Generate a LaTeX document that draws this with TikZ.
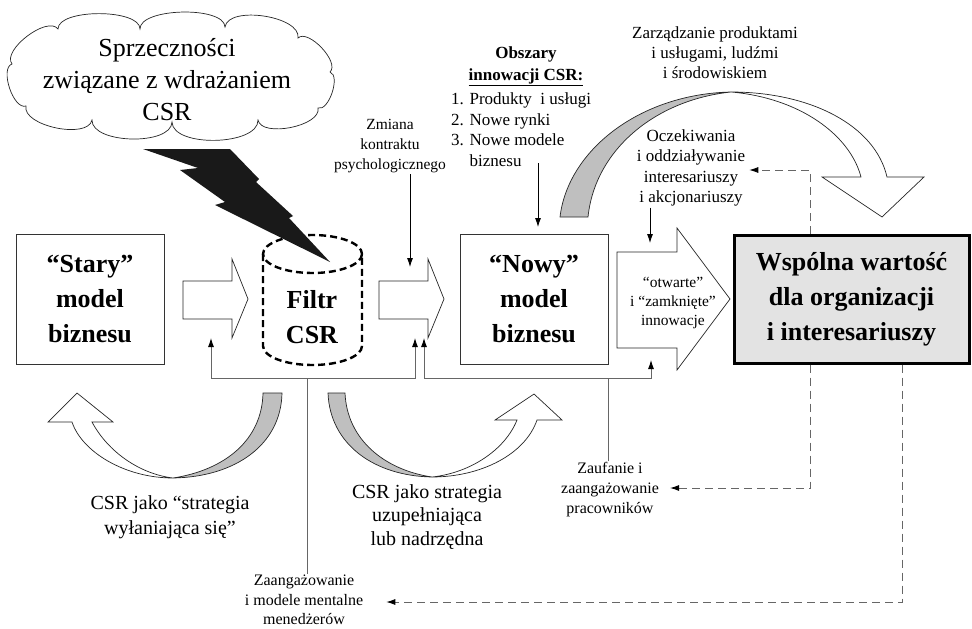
\documentclass[tikz,border=0pt]{standalone}
\usepackage{fontspec}
\setmainfont{Liberation Serif}
\usepackage{tikz}
\usetikzlibrary{arrows.meta}
\usetikzlibrary{calc}

\tikzset{
  lbl/.style={align=center, inner sep=1pt},
  smalltxt/.style={lbl, font=\fontsize{15.5}{20}\selectfont},
  midtxt/.style={lbl, font=\fontsize{17}{20.5}\selectfont},
  bigtxt/.style={lbl, font=\fontsize{20}{24.5}\selectfont},
  boxtxt/.style={align=center, font=\bfseries\fontsize{26}{35}\selectfont},
  modelbox/.style={boxtxt, draw=black!80, line width=0.8pt, minimum width=148pt, minimum height=130pt},
  blockarrow/.style={draw=black!85, line width=0.7pt, fill=white},
  ribbon/.style={draw=black!85, line width=0.7pt},
  inarrow/.style={draw=black, line width=0.8pt, -{Latex[length=9pt,width=6pt]}},
  feed/.style={draw=black!60, line width=0.9pt, -{Latex[length=9pt,width=6pt,color=black]}},
  dashfb/.style={draw=black!60, line width=0.9pt, dash pattern=on 8pt off 5pt, -{Latex[length=9pt,width=6pt,color=black]}}
}

\begin{document}
\begin{tikzpicture}[x=1pt,y=-1pt]
\useasboundingbox (0,0) rectangle (972,629);

% cloud and lightning
\draw[ribbon, fill=white] (12,64) .. controls (1.5,50.2) and (47.5,15.2) .. (58,29)
      .. controls (58,8.5) and (140,8.5) .. (140,29)
      .. controls (139.5,7.75) and (224.5,5.75) .. (225,27)
      .. controls (228.3,5.1) and (301.3,16.1) .. (298,38)
      .. controls (308.2,28.4) and (340.2,62.4) .. (330,72)
      .. controls (340.8,75.6) and (328.8,111.6) .. (318,108)
      .. controls (321.6,126) and (261.6,138) .. (258,120)
      .. controls (258.6,145.8) and (172.6,147.8) .. (172,122)
      .. controls (171.4,146) and (91.4,144) .. (92,120)
      .. controls (87.8,139.8) and (21.8,125.8) .. (26,106)
      .. controls (13.4,110.2) and (-0.6,68.2) .. (12,64) -- cycle;
\node[lbl, font=\fontsize{26}{32}\selectfont] (spr) at (167,80) {Sprzeczności\\ związane z wdrażaniem\\ CSR};

% boxes
\node[modelbox] (stary) at (90,299) {“Stary”\\ model\\ biznesu};
\node[modelbox] (nowy) at (534,299) {“Nowy”\\ model\\ biznesu};
\node[boxtxt, draw=black, fill=black!11, line width=3pt, minimum width=235pt, minimum height=128pt]
      (wsp) at (851.5,299) {Wspólna wartość\\ dla organizacji\\ i interesariuszy};

% filter
\draw[line width=2.4pt, dash pattern=on 7pt off 4pt] (312.5,254) ellipse[x radius=49.5, y radius=19];
\draw[line width=2.4pt, dash pattern=on 7pt off 4pt] (263,254) -- (263,346)
      arc[start angle=180, end angle=0, x radius=49.5, y radius=19] -- (362,254);
\node[boxtxt] (filtr) at (312,317) {Filtr\\ CSR};

\fill[black!90] (143,149) -- (230,149) -- (259,179) -- (256,182) -- (293,216) -- (289,218)
      -- (330,262) -- (215,205) -- (225,202) -- (180,170) -- (198,168) -- cycle;

% block arrows
\foreach \x in {183,379}
  \draw[blockarrow] (\x,281) -- ++(49,0) -- ++(0,-22) -- ++(16,40) -- ++(-16,39) -- ++(0,-19) -- ++(-49,0) -- cycle;
\draw[blockarrow] (617,252) -- (677,252) -- (677,228) -- (730,299) -- (677,370) -- (677,348) -- (617,348) -- cycle;
\node[lbl, font=\fontsize{15.5}{19}\selectfont] (otw) at (673,303) {“otwarte”\\ i “zamknięte”\\ innowacje};

% curved arrows
\filldraw[ribbon, fill=black!25] (560,217) .. controls (568,150) and (640,94) .. (731,92)
      .. controls (655,100) and (595,150) .. (588,217) -- cycle;
\filldraw[ribbon, fill=white] (731,92) .. controls (810,92) and (875,125) .. (887,177) -- (924,177) -- (882,217)
      -- (822,177) -- (861,177) .. controls (850,135) and (800,98) .. (731,92) -- cycle;

\filldraw[ribbon, fill=black!25] (282,393) .. controls (281,445) and (235,477) .. (173,478)
      .. controls (225,470) and (262,440) .. (263,393) -- cycle;
\filldraw[ribbon, fill=white] (173,478) .. controls (125,478) and (82,452) .. (72,422) -- (48,422) -- (77,393)
      -- (113,422) -- (92,422) .. controls (108,452) and (140,474) .. (173,478) -- cycle;

\filldraw[ribbon, fill=black!25] (328,393) .. controls (330,445) and (375,476) .. (432,477)
      .. controls (385,470) and (347,440) .. (345,393) -- cycle;
\filldraw[ribbon, fill=white] (432,477) .. controls (480,477) and (525,455) .. (537,420) -- (562,420) -- (534,394)
      -- (495,420) -- (517,420) .. controls (505,450) and (470,473) .. (432,477) -- cycle;

% labels
\node[smalltxt] (zmiana) at (390,146) {Zmiana\\ kontraktu\\ psychologicznego};
\node[midtxt, font=\bfseries\fontsize{17}{22}\selectfont] (obszary) at (526,66) {Obszary\\ \underline{innowacji CSR:}};
\node[midtxt, align=left, anchor=north west] (lista) at (450,92)
      {1. Produkty\enspace i usługi\\ 2. Nowe rynki\\ 3. Nowe modele\\ \phantom{3. }biznesu};
\node[midtxt, font=\fontsize{17}{20}\selectfont] (zarz) at (715,53) {Zarządzanie produktami\\ i usługami, ludźmi\\ i środowiskiem};
\node[midtxt] (oczek) at (691,168) {Oczekiwania\\ i oddziaływanie\\ interesariuszy\\ i akcjonariuszy};
\node[bigtxt] (csrl) at (170,517) {CSR jako “strategia\\ wyłaniająca się”};
\node[bigtxt, font=\fontsize{20}{23.5}\selectfont] (csrm) at (427,517) {CSR jako strategia\\ uzupełniająca\\ lub nadrzędna};
\node[smalltxt, font=\fontsize{16}{20}\selectfont] (zauf) at (610,490) {Zaufanie i\\ zaangażowanie\\ pracowników};
\node[smalltxt, font=\fontsize{16}{19.5}\selectfont] (zaang) at (304,600) {Zaangażowanie\\ i modele mentalne\\ menedżerów};

% input arrows
\coordinate (dn1) at (410,267);
\coordinate (ob1) at (538,163);
\coordinate (dn2) at (538,227);
\coordinate (dn3) at (650,243);
\draw[inarrow] (zmiana.south -| dn1) -- (dn1);
\draw[inarrow] (ob1) -- (dn2);
\draw[inarrow] (oczek.south -| dn3) -- (dn3);

% feedback
\coordinate (fbA) at (307,378);
\coordinate (upA1) at (211,338);
\coordinate (upA2) at (415,338);
\coordinate (fbB) at (608,378);
\coordinate (upB1) at (424,338);
\coordinate (upB2) at (651,360);
\draw[draw=black!60, line width=0.9pt] (zaang.north -| fbA) -- (fbA);
\draw[feed] (fbA) -| (upA1);
\draw[feed] (fbA) -| (upA2);
\draw[draw=black!60, line width=0.9pt] (zauf.north -| fbB) -- (fbB);
\draw[feed] (fbB) -| (upB1);
\draw[feed] (fbB) -| (upB2);

% dashed returns
\coordinate (dsA) at (810,170);
\coordinate (dsB) at (810,488);
\coordinate (dsC) at (902,602);
\draw[dashfb] (wsp.north -| dsA) -- (dsA) -- ([xshift=3pt]oczek.east |- dsA);
\draw[dashfb] (wsp.south -| dsB) -- (dsB) -- ([xshift=10pt]zauf.east |- dsB);
\draw[dashfb] (wsp.south -| dsC) -- (dsC) -- ([xshift=22pt]zaang.east |- dsC);

\end{tikzpicture}
\end{document}
